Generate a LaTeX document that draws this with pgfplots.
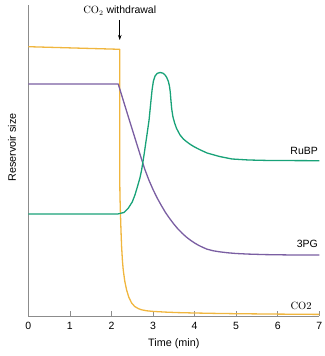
\documentclass[border=0pt]{standalone}
\usepackage{fontspec}
\setsansfont{Liberation Sans}
\usepackage{pgfplots}
\pgfplotsset{compat=1.18}
\usetikzlibrary{arrows.meta}
\definecolor{cotwo}{RGB}{240,182,62}
\definecolor{pgthree}{RGB}{122,94,162}
\definecolor{rubp}{RGB}{24,162,120}
\definecolor{axgray}{RGB}{140,140,140}
\begin{document}
\begin{tikzpicture}
\begin{axis}[
 scale only axis, width=291pt, height=311pt,
 xmin=0, xmax=7, ymin=0, ymax=311,
 axis x line*=bottom, axis y line*=left,
 axis line style={draw=axgray, -},
 xtick={0,1,2,3,4,5,6,7}, ytick=\empty,
 tick align=inside, major tick length=5pt,
 xtick style={draw=axgray, line width=0.6pt},
 tick label style={font=\sffamily\fontsize{10.5}{12}\selectfont},
 xticklabel style={yshift=-2.5pt},
 /pgf/number format/assume math mode=true,
 xlabel={Time (min)}, ylabel={Reservoir size},
 label style={font=\sffamily\fontsize{10.8}{12}\selectfont},
 xlabel style={at={(axis description cs:0.5,-0.088)}, anchor=center},
 ylabel style={at={(axis description cs:-0.056,0.542)}, anchor=center},
 clip=false,
 every axis plot/.append style={line width=1.3pt, line join=round},
]
% CO2
\addplot[cotwo] coordinates {
(0,269.3) (2.2,266.7) (2.2,136) (2.205,120) (2.215,105) (2.23,85) (2.245,69)
(2.265,55) (2.284,46) (2.32,35) (2.365,26) (2.42,18.5) (2.486,13) (2.56,9.5)
(2.65,7.3) (2.726,6.2) (2.85,5.2) (3.0,4.6) (3.3,3.9) (3.6,3.4) (4.0,3.0)
(4.5,2.6) (5.0,2.3) (6.0,1.9) (7.0,1.6)};
% 3PG
\addplot[pgthree] coordinates {
(0,232) (2.163,232) (2.445,194) (2.7,160) (2.8,147) (2.9,136) (3.0,126.5)
(3.1,118) (3.2,110.5) (3.3,103.5) (3.4,97.5) (3.5,92) (3.6,87) (3.7,82.8)
(3.8,79) (3.9,75.8) (4.0,73) (4.1,70.6) (4.2,68.6) (4.3,66.8) (4.45,65.2)
(4.6,64.2) (4.8,63.2) (5.0,62.5) (5.3,61.9) (5.7,61.4) (6.2,61.1) (7,61)};
% RuBP
\addplot[rubp] coordinates {
(0,102) (2.15,102) (2.3,103.5) (2.4,107.5) (2.5,114) (2.565,121) (2.63,130)
(2.685,138) (2.726,146) (2.78,160) (2.85,180) (2.905,196) (2.95,215) (2.98,227)
(3.01,235) (3.05,240) (3.1,242.6) (3.17,243.5) (3.24,242.8) (3.29,241) (3.33,238.5)
(3.37,234.5) (3.395,230) (3.415,224) (3.43,216) (3.45,207) (3.48,199) (3.52,193)
(3.567,187.5) (3.65,181) (3.73,177) (3.808,174.3) (3.9,171.5) (4.0,169) (4.127,166.3)
(4.3,163) (4.6,159.5) (4.9,157) (5.3,156) (5.8,155.5) (7,155.3)};
\node[anchor=east, font=\sffamily\fontsize{10.5}{12}\selectfont, inner sep=0pt] at (axis cs:6.97,165) {RuBP};
\node[anchor=east, font=\sffamily\fontsize{10.5}{12}\selectfont, inner sep=0pt] at (axis cs:6.97,72) {3PG};
\node[anchor=east, font=\rmfamily\fontsize{10.5}{12}\selectfont, inner sep=0pt] at (axis cs:6.82,10.5) {CO2};
\node[anchor=center, font=\sffamily\fontsize{10.5}{12}\selectfont, inner sep=0pt] at (axis cs:2.2,305) {{\rmfamily CO$_2$} withdrawal};
\draw[black, line width=0.6pt, -{Stealth[length=5pt,width=3.5pt]}] (axis cs:2.2,296) -- (axis cs:2.2,276);
\end{axis}
\pgfresetboundingbox
\path ([shift={(-28.3pt,-40pt)}]current axis.south west) rectangle ([shift={(5.7pt,5pt)}]current axis.north east);
\end{tikzpicture}
\end{document}
